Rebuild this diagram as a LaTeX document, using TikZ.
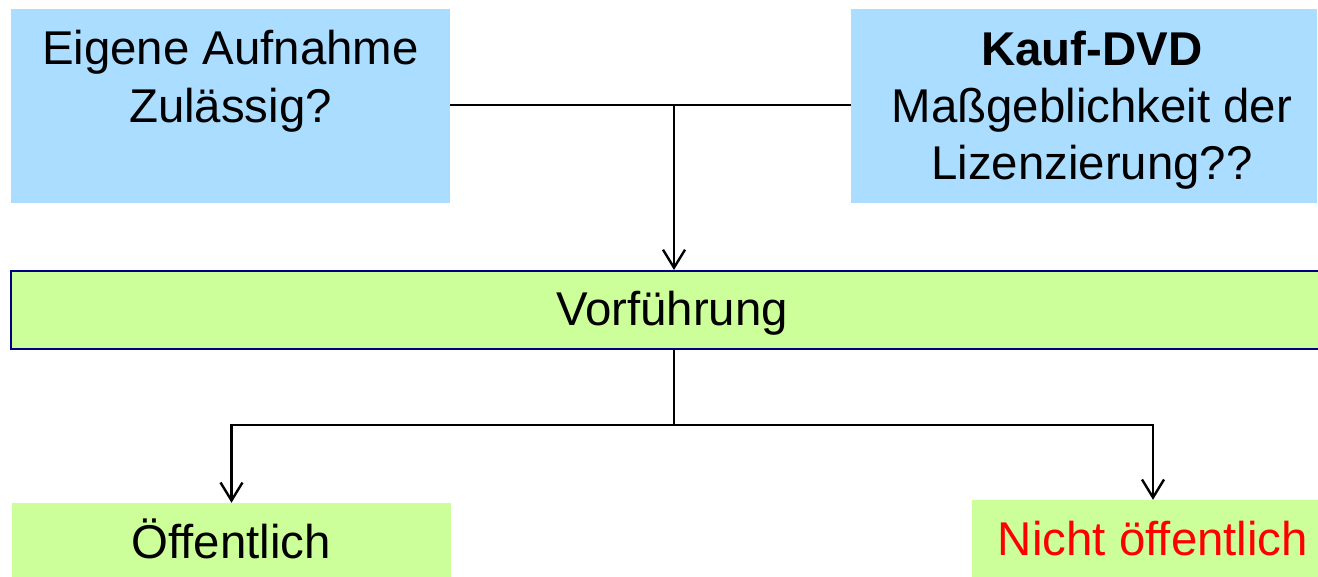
\documentclass[tikz,border=0pt]{standalone}
\usepackage{fontspec}
\setmainfont{Liberation Sans}
\usetikzlibrary{arrows.meta}
\definecolor{boxblue}{RGB}{170,221,255}
\definecolor{boxgreen}{RGB}{204,255,153}
\definecolor{navyline}{RGB}{0,0,128}
\begin{document}
\begin{tikzpicture}[x=1pt,y=-1pt,
  bluebox/.style={fill=boxblue,draw=none,inner sep=0pt},
  greenbox/.style={fill=boxgreen,draw=none,inner sep=0pt},
  txt/.style={font=\fontsize{47.4}{57}\selectfont,anchor=base,inner sep=0pt},
  conn/.style={line width=2.4pt,draw=black},
  arr/.style={conn,-{Straight Barb[length=18pt,width=22pt,line width=2.4pt]}}]
\useasboundingbox (0,0) rectangle (1318,576);
\clip (0,0) rectangle (1318,576);
% top boxes
\node[bluebox,minimum width=439pt,minimum height=194pt] (aufnahme) at (230.5,106) {};
\node[bluebox,minimum width=466pt,minimum height=194pt] (kauf) at (1084,106) {};
\node[txt] (aufT1) at (230.5,64) {Eigene Aufnahme};
\node[txt] (aufT2) at (230.5,122) {Zulässig?};
\node[txt,font=\fontsize{47.4}{57}\selectfont\bfseries] (kaufT1) at (1092,65) {Kauf-DVD};
\node[txt] (kaufT2) at (1092,122) {Maßgeblichkeit der};
\node[txt] (kaufT3) at (1092,179) {Lizenzierung??};
% middle box
\node[greenbox,draw=navyline,line width=2pt,minimum width=1322pt,minimum height=78pt] (vorf) at (672,310) {};
\node[txt] (vorfT) at (672,325) {Vorführung};
% bottom boxes
\node[greenbox,minimum width=439pt,minimum height=80pt] (oeff) at (231.5,543) {};
\node[txt] (oeffT) at (231,558) {Öffentlich};
\node[greenbox,minimum width=362pt,minimum height=82pt] (nicht) at (1153,541) {};
\node[txt,text=red] (nichtT) at (1153,555) {Nicht öffentlich};
% connectors
\coordinate (j1) at (674,105);
\coordinate (j2) at (674,425);
\draw[conn] (aufnahme.east |- j1) -- (kauf.west |- j1);
\draw[arr] (j1) -- (j1 |- vorf.north);
\draw[conn] (j1 |- vorf.south) -- (j2);
\draw[arr] (j2) -| (oeff.north);
\draw[arr] (j2) -| (nicht.north);
\end{tikzpicture}
\end{document}
